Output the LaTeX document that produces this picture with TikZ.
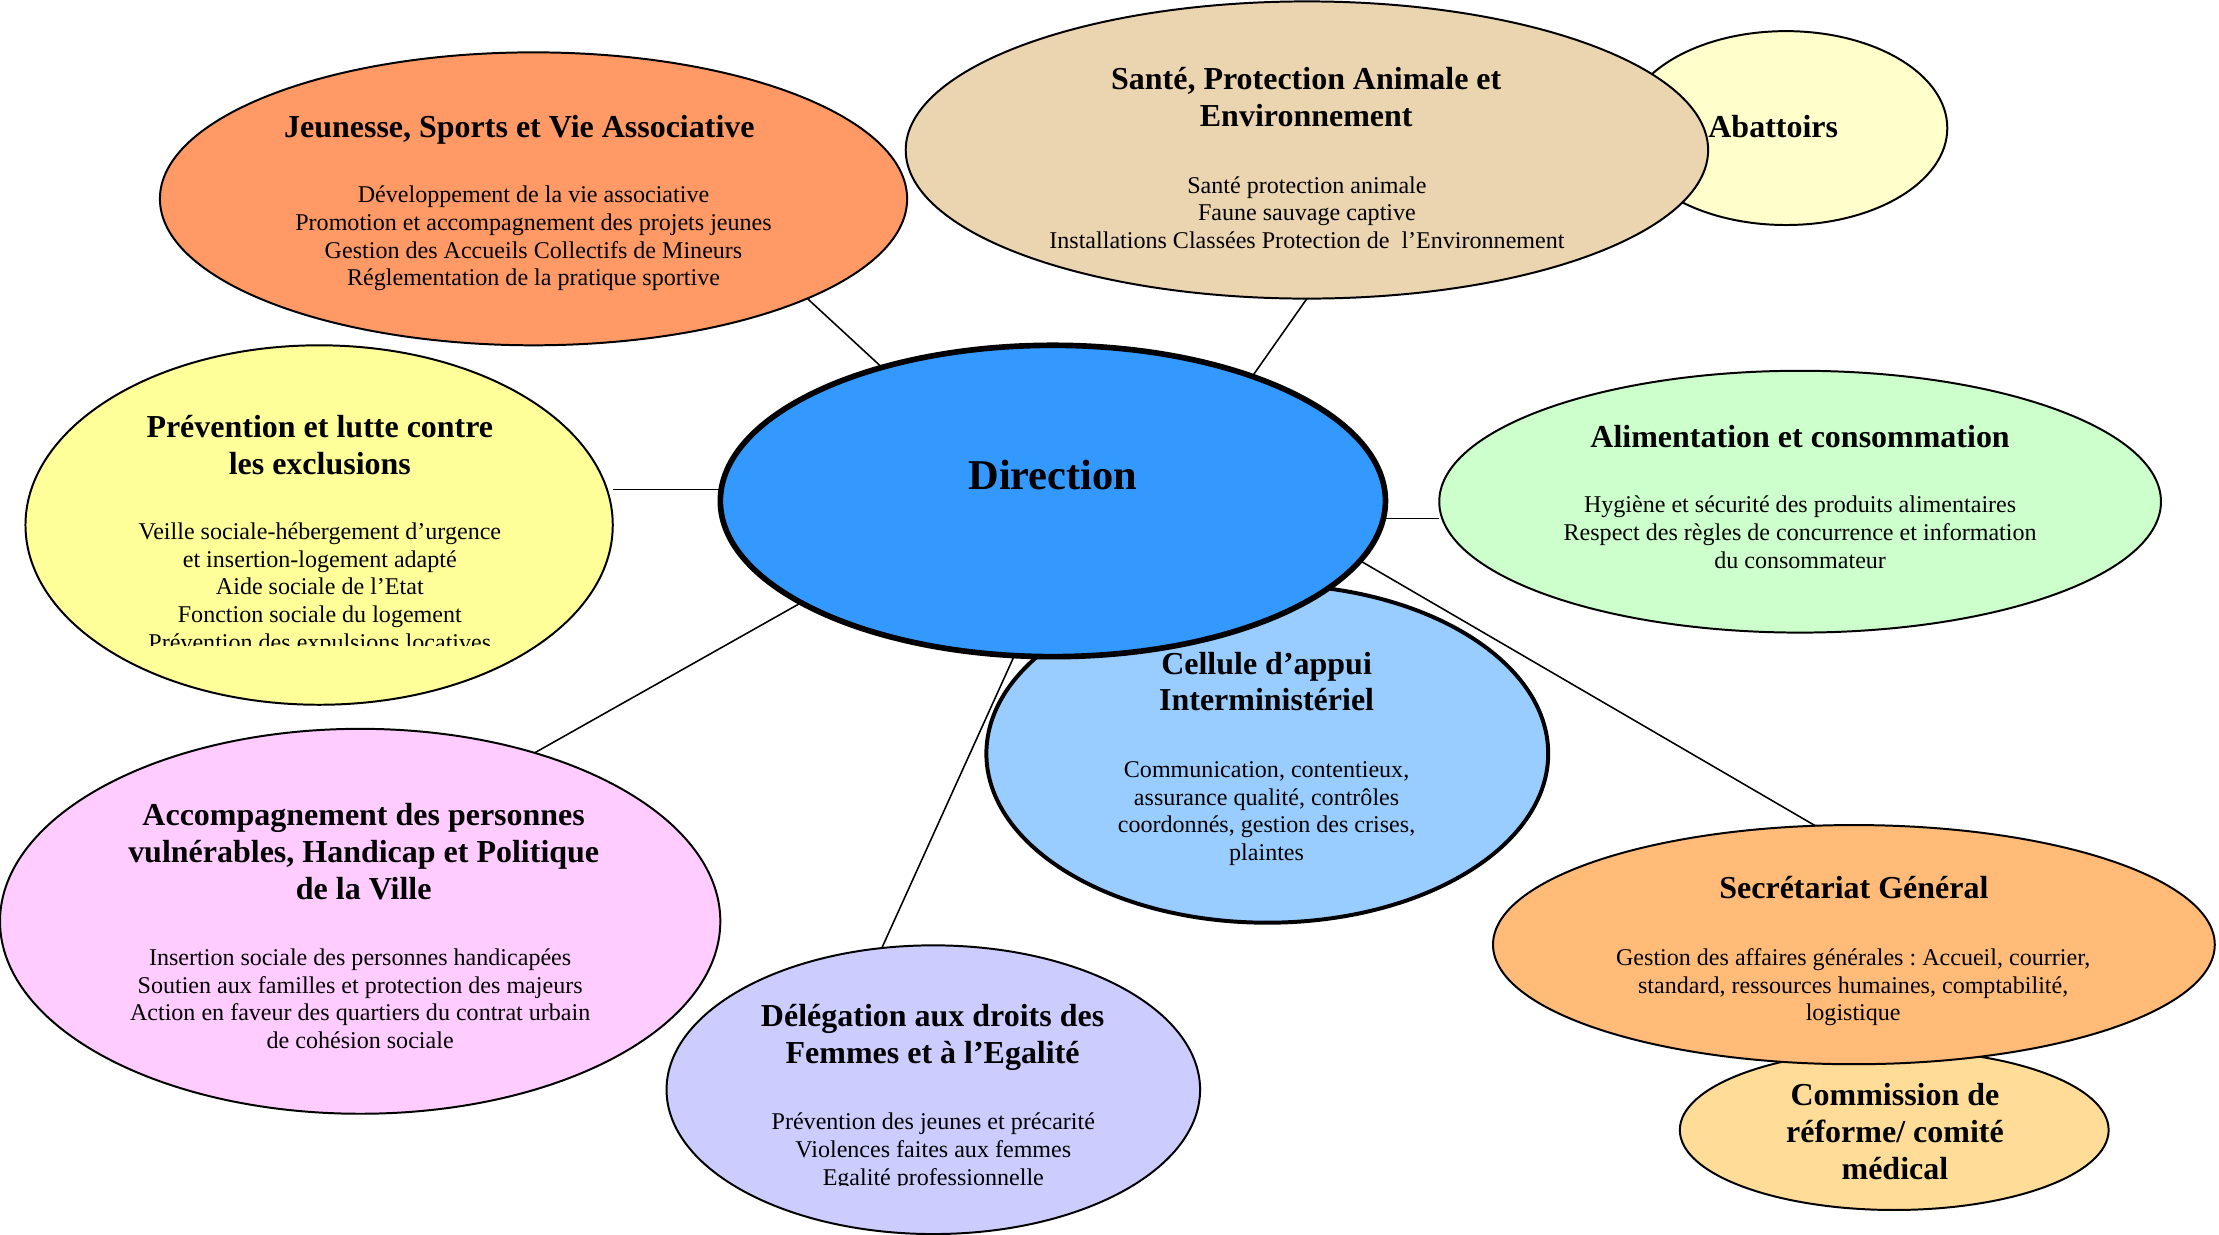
\documentclass[tikz,border=0pt]{standalone}
\usepackage{fontspec}
\setmainfont{Liberation Serif}
\frenchspacing
\usetikzlibrary{shapes.geometric}
\definecolor{cJeu}{HTML}{FF9966}
\definecolor{cSan}{HTML}{EAD5B0}
\definecolor{cAba}{HTML}{FFFFCC}
\definecolor{cDir}{HTML}{3399FF}
\definecolor{cPre}{HTML}{FFFF99}
\definecolor{cAli}{HTML}{CCFFCC}
\definecolor{cCel}{HTML}{99CCFF}
\definecolor{cAcc}{HTML}{FFCCFF}
\definecolor{cDel}{HTML}{CCCCFF}
\definecolor{cSec}{HTML}{FFBB77}
\definecolor{cCom}{HTML}{FFDD99}
\tikzset{
  oval/.style={ellipse, draw=black, line width=0.7pt, inner sep=0pt, outer sep=0pt},
  thickoval/.style={oval, line width=1.4pt},
  ttl/.style={anchor=north, align=center, inner sep=0pt, font=\fontsize{11.3}{13}\selectfont\bfseries},
  ttlone/.style={anchor=base, inner sep=0pt, font=\fontsize{11.3}{13}\selectfont\bfseries},
  bdy/.style={anchor=north, align=center, inner sep=0pt, font=\fontsize{8.5}{9.75}\selectfont},
  link/.style={draw=black, line width=0.55pt},
}
\begin{document}
\begin{tikzpicture}[x=0.5pt, y=-0.5pt]
\useasboundingbox (0,0) rectangle (1568,872);
\fill[white] (0,0) rectangle (1568,872);

% ellipses (back to front)
\node[oval, fill=cAba, minimum width=114pt, minimum height=68.5pt] (aba) at (1262,90.5) {};
\node[oval, fill=cSan, minimum width=283.5pt, minimum height=105pt] (san) at (923.5,106) {};
\node[oval, fill=cJeu, minimum width=264pt, minimum height=103.5pt] (jeu) at (377,140.5) {};
\node[oval, fill=cPre, minimum width=207.5pt, minimum height=127pt] (pre) at (225.5,371) {};
\node[oval, fill=cAcc, minimum width=254.5pt, minimum height=136pt] (acc) at (254.5,651) {};
\node[oval, fill=cDel, minimum width=188.5pt, minimum height=102pt] (del) at (659.5,770) {};
\node[oval, fill=cAli, minimum width=255pt, minimum height=92.5pt] (ali) at (1272,354.5) {};
\node[oval, fill=cCom, minimum width=151.5pt, minimum height=56.5pt] (com) at (1338.5,798.5) {};
\node[oval, fill=cSec, minimum width=255pt, minimum height=84.5pt] (sec) at (1310,667.5) {};
\node[thickoval, fill=cCel, minimum width=198.5pt, minimum height=119.5pt] (cel) at (895.5,532.5) {};
\node[oval, line width=2pt, fill=cDir, minimum width=235pt, minimum height=110pt] (dir) at (744,354) {};

% connectors
\draw[link] (jeu.-20.2) -- (dir.142.6);
\draw[link] (san.-90) -- (dir.32.5);
\draw[link] (dir.178.3) -- (dir.178.3 -| pre.east);
\draw[link] (dir.-3.2) -- (dir.-3.2 -| ali.west);
\draw[link] (dir.-11.9) -- (sec.108.3);
\draw[link] (dir.-158) -- (acc.44);
\draw[link] (dir.-104) -- (del.110.9);

% texts
\node[anchor=base, inner sep=0pt, font=\fontsize{15}{18}\selectfont\bfseries] (tdir) at (744,346) {Direction};

\node[ttl] (tjeu) at (367,78.8) {\strut Jeunesse, Sports et Vie Associative};
\node[bdy] (bjeu) at (377,129.35) {\strut Développement de la vie associative\\Promotion et accompagnement des projets jeunes\\Gestion des Accueils Collectifs de Mineurs\\Réglementation de la pratique sportive};

\node[ttl] (tsan) at (923,44.8) {\strut Santé, Protection Animale et\\Environnement};
\node[bdy] (bsan) at (923.5,122.35) {\strut Santé protection animale\\Faune sauvage captive\\Installations Classées Protection de\ \ l’Environnement};

\node[ttlone] (taba) at (1253,97) {Abattoirs};

\node[ttl] (tpre) at (226,290.8) {\strut Prévention et lutte contre\\les exclusions};
\begin{scope}
\clip (0,0) rectangle (1568,456);
\node[bdy] (bpre) at (226,367.35) {\strut Veille sociale-hébergement d’urgence\\et insertion-logement adapté\\Aide sociale de l’Etat\\Fonction sociale du logement\\Prévention des expulsions locatives};
\end{scope}

\node[ttlone] (tali) at (1272,316) {Alimentation et consommation};
\node[bdy] (bali) at (1272,348.35) {\strut Hygiène et sécurité des produits alimentaires\\Respect des règles de concurrence et information\\du consommateur};

\node[ttl] (tcel) at (895,457.8) {\strut Cellule d’appui\\Interministériel};
\node[bdy] (bcel) at (895,535.35) {\strut Communication, contentieux,\\assurance qualité, contrôles\\coordonnés, gestion des crises,\\plaintes};

\node[ttl] (tacc) at (257,564.8) {\strut Accompagnement des personnes\\vulnérables, Handicap et Politique\\de la Ville};
\node[bdy] (bacc) at (254.5,668.35) {\strut Insertion sociale des personnes handicapées\\Soutien aux familles et protection des majeurs\\Action en faveur des quartiers du contrat urbain\\de cohésion sociale};

\node[ttl] (tdel) at (659,706.8) {\strut Délégation aux droits des\\Femmes et à l’Egalité};
\begin{scope}
\clip (0,0) rectangle (1568,838);
\node[bdy] (bdel) at (659.5,784.35) {\strut Prévention des jeunes et précarité\\Violences faites aux femmes\\Egalité professionnelle};
\end{scope}

\node[ttlone] (tsec) at (1310,635) {Secrétariat Général};
\node[bdy] (bsec) at (1309.5,668.35) {\strut Gestion des affaires générales : Accueil, courrier,\\standard, ressources humaines, comptabilité,\\logistique};

\node[ttl] (tcom) at (1339,762.8) {\strut Commission de\\réforme/ comité\\médical};
\end{tikzpicture}
\end{document}
